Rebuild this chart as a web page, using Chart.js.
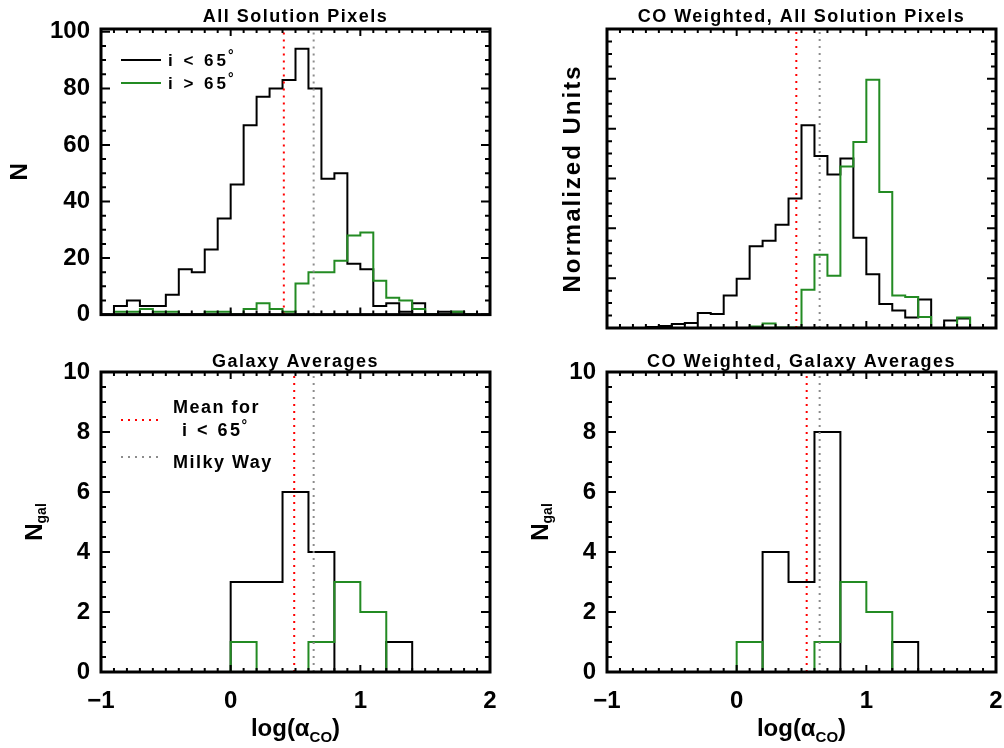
<!DOCTYPE html>
<html lang="en">
<head>
<meta charset="UTF-8">
<title>alpha CO distributions</title>
<script src="https://cdn.jsdelivr.net/npm/chart.js@4.4.1/dist/chart.umd.min.js"></script>
<style>
  body { margin: 0; background: #fff; }
  #page { position: relative; width: 1004px; height: 748px; overflow: hidden; background: #fff; }
  .panel { position: absolute; }
</style>
</head>
<body>
<div id="page">
  <div class="panel" style="left:0;top:0;width:500px;height:340px"><canvas id="pixAll"></canvas></div>
  <div class="panel" style="left:500px;top:0;width:504px;height:340px"><canvas id="pixCO"></canvas></div>
  <div class="panel" style="left:0;top:340px;width:500px;height:408px"><canvas id="galAll"></canvas></div>
  <div class="panel" style="left:500px;top:340px;width:504px;height:408px"><canvas id="galCO"></canvas></div>
</div>
<script>
// ---- data ----
// pixel histograms: left edges of 0.1 dex bins
const pixBins = [-0.9, -0.8, -0.7, -0.6, -0.5, -0.4, -0.3, -0.2, -0.1, 0.0,
                 0.1, 0.2, 0.3, 0.4, 0.5, 0.6, 0.7, 0.8, 0.9, 1.0,
                 1.1, 1.2, 1.3, 1.4, 1.5, 1.6, 1.7, 1.8];
const pixBinWidth = 0.1;
const pixLowInc  = [3, 5, 3, 3, 7, 16, 15, 23, 34, 46, 67, 77, 80, 83, 94, 80, 48, 50, 18, 16, 3, 4, 1, 4, 0, 1, 1, 0];
const pixHighInc = [1, 1, 2, 1, 1, 0, 0, 1, 1, 0, 2, 4, 2, 1, 11, 15, 15, 19, 28, 29, 12, 6, 5, 2, 0, 0, 1, 0];
// CO weighted (normalized units, one unit = one major tick)
const coPixLowInc  = [0, 0, 0.02, 0.04, 0.08, 0.10, 0.30, 0.28, 0.65, 0.99, 1.64, 1.75, 2.07, 2.60, 4.07, 3.45, 3.08, 3.40, 1.81, 1.08, 0.48, 0.35, 0.21, 0.57, 0, 0.15, 0.19, 0];
const coPixHighInc = [0, 0, 0, 0, 0, 0, 0, 0, 0, 0, 0.03, 0.09, 0.01, 0.01, 0.77, 1.47, 1.05, 3.24, 3.73, 4.98, 2.73, 0.65, 0.62, 0.22, 0, 0, 0.21, 0];

// galaxy averages: left edges of 0.2 dex bins
const galBins = [0.0, 0.2, 0.4, 0.6, 0.8, 1.0, 1.2];
const galBinWidth = 0.2;
const galLowInc    = [3, 3, 6, 4, 0, 0, 1];
const galHighInc   = [1, 0, 0, 1, 3, 2, 0];
const coGalLowInc  = [0, 4, 3, 8, 0, 0, 1];
const coGalHighInc = [1, 0, 0, 1, 3, 2, 0];

// reference lines: mean for i < 65 deg (per panel) and Milky Way
const meanLowInc = { pixAll: 0.41, pixCO: 0.46, galAll: 0.49, galCO: 0.54 };
const milkyWay = 0.64;

// axes
const xRange = [-1, 2];
const xTickValues = [-1, 0, 1, 2];
const xTickLabels = ['\u22121', '0', '1', '2'];
const pixYTicks = [0, 20, 40, 60, 80, 100];
const galYTicks = [0, 2, 4, 6, 8, 10];

const GREEN = '#238b23';
const FONT = 'Liberation Sans';

function stepOutline(edges, width, counts) {
  const pts = [{ x: edges[0], y: 0 }];
  counts.forEach((c, i) => pts.push({ x: edges[i], y: c }));
  pts.push({ x: edges[edges.length - 1] + width, y: 0 });
  return pts;
}

function histSet(edges, width, counts, color, order) {
  return {
    data: stepOutline(edges, width, counts),
    borderColor: color, borderWidth: 2, stepped: 'before',
    pointRadius: 0, fill: false, order: order
  };
}

function vline(xv, ymax, color) {
  return {
    data: [{ x: xv, y: 0 }, { x: xv, y: ymax }],
    borderColor: color, borderWidth: 2, borderDash: [2, 5],
    pointRadius: 0, fill: false, order: 0
  };
}

// draw a run of text pieces centred on 0 (for subscripts)
function drawRuns(ctx, runs, spacing) {
  let w = 0;
  runs.forEach(r => {
    ctx.font = 'bold ' + r.size + 'px "' + FONT + '"';
    ctx.letterSpacing = spacing + 'px';
    r.w = ctx.measureText(r.t).width;
    w += r.w;
  });
  let cx = -w / 2;
  runs.forEach(r => {
    ctx.font = 'bold ' + r.size + 'px "' + FONT + '"';
    ctx.letterSpacing = spacing + 'px';
    ctx.fillText(r.t, cx, r.dy || 0);
    cx += r.w;
  });
}

function drawText(ctx, t, x, y, size, spacing, align) {
  ctx.font = 'bold ' + size + 'px "' + FONT + '"';
  ctx.letterSpacing = spacing + 'px';
  ctx.textAlign = align || 'left';
  ctx.fillText(t, x, y);
}

// IDL-like frame: inward ticks on all sides, box, titles, legend
const idlFrame = {
  id: 'idlFrame',
  afterDatasetsDraw(chart, args, o) {
    const { ctx, chartArea: a, scales: { x, y } } = chart;
    ctx.save();
    ctx.strokeStyle = '#000';
    ctx.fillStyle = '#000';
    ctx.lineWidth = 2;
    ctx.beginPath();
    const nx = Math.round((x.max - x.min) / o.xMinor);
    for (let i = 0; i <= nx; i++) {
      const v = x.min + i * o.xMinor;
      const px = x.getPixelForValue(v);
      const r = v / o.xMajor;
      const len = Math.abs(r - Math.round(r)) < 1e-6 ? 7 : 4;
      ctx.moveTo(px, a.bottom); ctx.lineTo(px, a.bottom - len);
      ctx.moveTo(px, a.top); ctx.lineTo(px, a.top + len);
    }
    const ny = Math.floor((y.max - y.min) / o.yMinor + 1e-6);
    for (let i = 0; i <= ny; i++) {
      const v = y.min + i * o.yMinor;
      const py = y.getPixelForValue(v);
      const r = v / o.yMajor;
      const len = Math.abs(r - Math.round(r)) < 1e-6 ? 9 : 5;
      ctx.moveTo(a.left, py); ctx.lineTo(a.left + len, py);
      ctx.moveTo(a.right, py); ctx.lineTo(a.right - len, py);
    }
    ctx.stroke();
    ctx.lineWidth = 3;
    ctx.strokeRect(a.left, a.top, a.right - a.left, a.bottom - a.top);

    const cx = (a.left + a.right) / 2;
    const cy = (a.top + a.bottom) / 2;
    ctx.textBaseline = 'alphabetic';

    // x tick labels
    if (o.xLabels) {
      xTickValues.forEach((v, i) => {
        drawText(ctx, xTickLabels[i], x.getPixelForValue(v), a.bottom + 36, 24, 0, 'center');
      });
    }

    // panel title
    drawText(ctx, o.title, cx, a.top - o.titleGap, 18, 1.5, 'center');

    // y title (rotated)
    ctx.save();
    ctx.translate(a.left - o.yTitleGap, cy);
    ctx.rotate(-Math.PI / 2);
    ctx.textAlign = 'left';
    drawRuns(ctx, o.yTitle, o.yTitleSpacing || 0);
    ctx.restore();

    // x title
    if (o.xTitle) {
      ctx.save();
      ctx.translate(cx, a.bottom + 64);
      ctx.textAlign = 'left';
      drawRuns(ctx, o.xTitle, 0);
      ctx.restore();
    }

    // legend
    (o.legend || []).forEach(item => {
      ctx.save();
      ctx.strokeStyle = item.color;
      ctx.lineWidth = 2;
      ctx.setLineDash(item.dash || []);
      ctx.beginPath();
      ctx.moveTo(a.left + 20, a.top + item.dy);
      ctx.lineTo(a.left + 60, a.top + item.dy);
      ctx.stroke();
      ctx.restore();
      item.lines.forEach(l => {
        drawText(ctx, l.t, a.left + l.dx, a.top + l.base, l.size, l.spacing, 'left');
        if (l.deg) {
          const w = ctx.measureText(l.t).width;
          drawText(ctx, '\u00b0', a.left + l.dx + w - 1, a.top + l.base - 6, 14, 0, 'left');
        }
      });
    });
    ctx.restore();
  }
};

function makeChart(id, cfg) {
  const datasets = [
    histSet(cfg.bins, cfg.width, cfg.high, GREEN, 1),
    histSet(cfg.bins, cfg.width, cfg.low, '#000', 2),
    vline(meanLowInc[id], cfg.ymax, '#ff0000'),
    vline(milkyWay, cfg.ymax, '#8c8c8c')
  ];
  return new Chart(document.getElementById(id), {
    type: 'line',
    data: { datasets: datasets },
    plugins: [idlFrame],
    options: {
      responsive: true,
      maintainAspectRatio: false,
      animation: false,
      events: [],
      layout: { autoPadding: false, padding: { top: cfg.padTop, right: cfg.padRight, left: 0, bottom: 0 } },
      scales: {
        x: {
          type: 'linear', min: xRange[0], max: xRange[1],
          grid: { display: false, drawTicks: false },
          border: { display: false },
          ticks: { display: false, stepSize: 1 },
          afterFit: s => { s.height = cfg.xHeight; }
        },
        y: {
          min: 0, max: cfg.ymax,
          grid: { display: false, drawTicks: false },
          border: { display: false },
          ticks: {
            display: cfg.yLabels, stepSize: cfg.yMajor, includeBounds: false, padding: 11,
            color: '#000', font: { family: FONT, weight: 'bold', size: 24 },
            callback: v => cfg.yTicks && cfg.yTicks.includes(v) ? String(v) : ''
          },
          afterFit: s => { s.width = cfg.yWidth; }
        }
      },
      plugins: {
        legend: { display: false },
        tooltip: { enabled: false },
        idlFrame: {
          title: cfg.title, titleGap: cfg.titleGap, xLabels: cfg.xLabels,
          xMinor: 0.1, xMajor: 1, yMinor: cfg.yMajor / 4, yMajor: cfg.yMajor,
          yTitle: cfg.yTitle, yTitleGap: cfg.yTitleGap, yTitleSpacing: cfg.yTitleSpacing,
          xTitle: cfg.xTitle, legend: cfg.legend
        }
      }
    }
  });
}

const alphaTitle = [
  { t: 'log(\u03b1', size: 24 },
  { t: 'CO', size: 15, dy: 6 },
  { t: ')', size: 24 }
];
const ngalTitle = [
  { t: 'N', size: 24 },
  { t: 'gal', size: 14, dy: 4 }
];

makeChart('pixAll', {
  bins: pixBins, width: pixBinWidth, low: pixLowInc, high: pixHighInc,
  ymax: 101, yMajor: 20, yTicks: pixYTicks, yLabels: true, xLabels: false,
  padTop: 29, padRight: 10, yWidth: 101, xHeight: 12,
  title: 'All Solution Pixels', titleGap: 7,
  yTitle: [{ t: 'N', size: 24 }], yTitleGap: 74,
  legend: [
    { color: '#000', dy: 31, lines: [{ t: 'i < 65', dx: 67, base: 37, size: 17, spacing: 3, deg: true }] },
    { color: GREEN, dy: 54, lines: [{ t: 'i > 65', dx: 67, base: 60, size: 17, spacing: 3, deg: true }] }
  ]
});

makeChart('pixCO', {
  bins: pixBins, width: pixBinWidth, low: coPixLowInc, high: coPixHighInc,
  ymax: 6, yMajor: 1, yTicks: null, yLabels: false, xLabels: false,
  padTop: 29, padRight: 8, yWidth: 107, xHeight: 12,
  title: 'CO Weighted, All Solution Pixels', titleGap: 7,
  yTitle: [{ t: 'Normalized Units', size: 24 }], yTitleGap: 27, yTitleSpacing: 2
});

makeChart('galAll', {
  bins: galBins, width: galBinWidth, low: galLowInc, high: galHighInc,
  ymax: 10, yMajor: 2, yTicks: galYTicks, yLabels: true, xLabels: true,
  padTop: 32, padRight: 10, yWidth: 101, xHeight: 76,
  title: 'Galaxy Averages', titleGap: 5,
  yTitle: ngalTitle, yTitleGap: 59,
  xTitle: alphaTitle,
  legend: [
    { color: '#ff0000', dash: [2, 5], dy: 48, lines: [
      { t: 'Mean for', dx: 72, base: 41, size: 18, spacing: 1.5 },
      { t: 'i < 65', dx: 81, base: 64, size: 18, spacing: 2.5, deg: true }
    ] },
    { color: '#8c8c8c', dash: [2, 5], dy: 85, lines: [
      { t: 'Milky Way', dx: 72, base: 96, size: 18, spacing: 1.5 }
    ] }
  ]
});

makeChart('galCO', {
  bins: galBins, width: galBinWidth, low: coGalLowInc, high: coGalHighInc,
  ymax: 10, yMajor: 2, yTicks: galYTicks, yLabels: true, xLabels: true,
  padTop: 32, padRight: 8, yWidth: 107, xHeight: 76,
  title: 'CO Weighted, Galaxy Averages', titleGap: 5,
  yTitle: ngalTitle, yTitleGap: 59,
  xTitle: alphaTitle
});
</script>
</body>
</html>
